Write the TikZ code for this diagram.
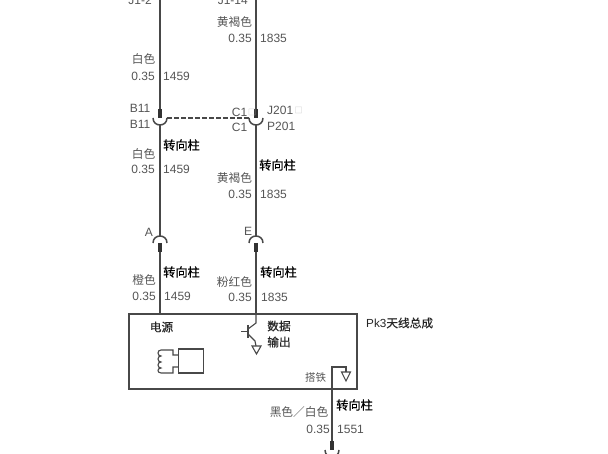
\documentclass[tikz,border=0pt]{standalone}
\usepackage{fontspec}
\setmainfont{Liberation Sans}
\newfontfamily\cjk{Noto Sans CJK SC}
\newfontfamily\cjkm[FakeBold=0.6]{Noto Sans CJK SC}
\usetikzlibrary{arrows}
\definecolor{wirecol}{HTML}{484848}
\definecolor{textcol}{HTML}{555555}
\tikzstyle{label} = [inner sep=0pt, text=textcol, font=\fontsize{12}{13}\selectfont]
\tikzstyle{cnlabel} = [inner sep=0pt, text=textcol, font=\fontsize{11.7}{13}\cjk]
\tikzstyle{route} = [inner sep=0pt, text=black, font=\fontsize{12.2}{13}\cjkm]
\tikzstyle{inner} = [inner sep=0pt, text=black!85, font=\fontsize{11.7}{13}\cjkm]
\tikzstyle{unit} = [rectangle, draw=wirecol, line width=1.8pt, inner sep=0pt]
\tikzstyle{line} = [draw=wirecol, line width=1.5pt]
\tikzstyle{thin line} = [draw=wirecol, line width=1.1pt]
\tikzset{
  pin/.style={draw=wirecol!70!black, line width=4pt},
  % pin coming from above, cup open to the top
  cupdown/.pic={
    \coordinate (-l) at (-7,0);
    \coordinate (-r) at (7,0);
    \coordinate (-top) at (0,-9);
    \coordinate (-low) at (0,7);
    \path [pin] (0,-9) -- (0,0);
    \path [line] (-7,0) .. controls (-7,9.3) and (7,9.3) .. (7,0);
  },
  % pin going down, cap open to the bottom
  capup/.pic={
    \coordinate (-high) at (0,-7);
    \coordinate (-low) at (0,9);
    \path [line] (-7,0) .. controls (-7,-9.3) and (7,-9.3) .. (7,0);
    \path [pin] (0,0) -- (0,9);
  }
}
\begin{document}
\begin{tikzpicture}[x=1pt,y=-1pt]
    \useasboundingbox (0,0) rectangle (608,454);
    \clip (0,0) rectangle (608,454);

    % Place nodes
    \node [unit, minimum width=228pt, minimum height=75pt] (pk3) at (243,351.5) {};
    \node [unit, line width=1.5pt, minimum width=25pt, minimum height=24pt] (relay) at (191,361) {};
    \coordinate (topl) at (160,-5);
    \coordinate (topr) at (256,-5);
    \pic (b11) at (160,118) {cupdown};
    \pic (c1) at (256,118) {cupdown};
    \pic (a) at (160,243) {capup};
    \pic (e) at (256,243) {capup};
    \pic (gnd) at (332,450) {cupdown};
    \coordinate (unitl) at (pk3.north -| topl);
    \coordinate (unitr) at (pk3.north -| topr);
    \coordinate (tbase) at (248,331.5);
    \coordinate (tc) at (248,329);
    \coordinate (te) at (248,334);
    \coordinate (tout) at (256,346);
    \coordinate (gbend) at (332,367);
    \coordinate (gdrop) at (346,372);

    \node [label, anchor=east] (j12) at (152,0) {J1-2};
    \node [label, anchor=east] (j114) at (248,0) {J1-14};
    \node [cnlabel] (c1a) at (234.5,22) {黄褐色};
    \node [label, anchor=east] (g1a) at (252,38) {0.35};
    \node [label, anchor=west] (n1a) at (260,38) {1835};
    \node [cnlabel] (c2a) at (143.5,59) {白色};
    \node [label, anchor=east] (g2a) at (155,76) {0.35};
    \node [label, anchor=west] (n2a) at (163,76) {1459};
    \node [label, anchor=east] (b11u) at (150.5,108) {B11};
    \node [label, anchor=east] (b11d) at (150.5,124) {B11};
    \node [label, anchor=east] (c1u) at (247.5,112) {C1};
    \node [cnlabel, text=black!25, font=\fontsize{8}{8}\cjk] (c1box) at (252,112) {□};
    \node [label, anchor=east] (c1d) at (247.5,127) {C1};
    \node [label, anchor=west] (j201) at (267,110) {J201};
    \node [cnlabel, text=black!25, font=\fontsize{8}{8}\cjk] (j201box) at (298.5,110) {□};
    \node [label, anchor=west] (p201) at (267,126) {P201};
    \node [route, anchor=west] (r1) at (163,145) {转向柱};
    \node [cnlabel] (c2b) at (143.5,154) {白色};
    \node [label, anchor=east] (g2b) at (155,169) {0.35};
    \node [label, anchor=west] (n2b) at (163,169) {1459};
    \node [route, anchor=west] (r2) at (259,165) {转向柱};
    \node [cnlabel] (c1b) at (234.5,178) {黄褐色};
    \node [label, anchor=east] (g1b) at (252,194) {0.35};
    \node [label, anchor=west] (n1b) at (260,194) {1835};
    \node [label] (pa) at (149,232) {A};
    \node [label] (pe) at (248,231) {E};
    \node [route, anchor=west] (r3) at (163,272) {转向柱};
    \node [route, anchor=west] (r4) at (260,272) {转向柱};
    \node [cnlabel] (c3) at (144,280) {橙色};
    \node [label, anchor=east] (g3) at (156,296) {0.35};
    \node [label, anchor=west] (n3) at (164,296) {1459};
    \node [cnlabel] (c4) at (234.5,282) {粉红色};
    \node [label, anchor=east] (g4) at (252,297) {0.35};
    \node [label, anchor=west] (n4) at (261,297) {1835};
    \node [inner] (power) at (161.5,327) {电源};
    \node [inner] (data) at (279,326) {数据};
    \node [inner] (output) at (279,342) {输出};
    \node [cnlabel, font=\fontsize{10.5}{12}\cjk] (earth) at (315.5,378) {搭铁};
    \node [inner, anchor=west] (name) at (366,323) {{\fontspec{Liberation Sans}Pk3}天线总成};
    \node [route, anchor=west] (r5) at (336,405) {转向柱};
    \node [cnlabel] (c5) at (299,412) {黑色／白色};
    \node [label, anchor=east] (g5) at (330,429) {0.35};
    \node [label, anchor=west] (n5) at (337,429) {1551};

    % Draw edges
    \path [line] (topl) -- (b11-top);
    \path [line] (topr) -- (c1-top);
    \path [line] (b11-low) -- (a-high);
    \path [line] (c1-low) -- (e-high);
    \path [line] (a-low) -- (unitl);
    \path [line] (e-low) -- (unitr);
    \path [line, dashed, dash pattern=on 4.5pt off 2.5pt] (b11-r) -- (c1-l);
    \path [thin line] (unitr) -- (256,323) -- (tc);
    \path [thin line] (te) -- (255,341) -- (tout);
    \path [line] (248,325) -- (248,338);
    \path [thin line] (241,331.5) -- (tbase);
    \path [thin line] (252,346) -- (261,346) -- (256.5,354) -- cycle;
    \path [thin line] (gnd-top) -- (gbend) -- (346,367) -- (gdrop);
    \path [thin line] (341.5,372) -- (350.5,372) -- (346,381) -- cycle;
    % coil on the relay
    \path [thin line] (relay.west |- 0,355) -- (173,355) -- (173,350) -- (161,350)
      .. controls (157,350) and (157,356) .. (161,356)
      .. controls (157,356) and (157,362) .. (161,362)
      .. controls (157,362) and (157,368) .. (161,368)
      .. controls (157,368) and (157,373) .. (161,373)
      -- (173,373) -- (173,367) -- (relay.west |- 0,367);
\end{tikzpicture}
\end{document}
